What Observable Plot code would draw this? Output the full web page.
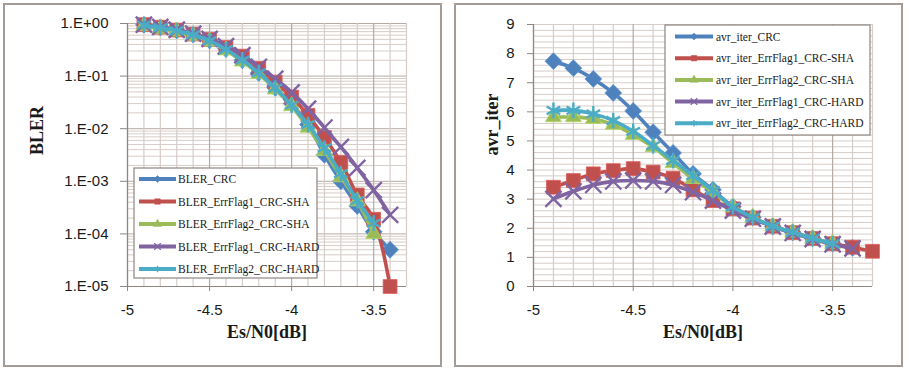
<!DOCTYPE html>
<html>
<head>
<meta charset="utf-8">
<script src="https://cdn.jsdelivr.net/npm/d3@7"></script>
<script src="https://cdn.jsdelivr.net/npm/@observablehq/plot@0.6"></script>
<style>
  html, body { margin: 0; padding: 0; background: #fff; }
  #wrap { position: relative; width: 909px; height: 372px; background: #fff; overflow: hidden; }
  .panel { position: absolute; top: 3px; height: 364px; border: 2px solid #a39b95; box-sizing: border-box; }
  .plotbox { position: absolute; top: 0; }
  #legend { position: absolute; left: 0; top: 0; }
</style>
</head>
<body>
<div id="wrap">
  <div class="panel" style="left:3px;width:439px"></div>
  <div class="panel" style="left:454px;width:449px"></div>
  <div class="plotbox" id="left" style="left:0px"></div>
  <div class="plotbox" id="right" style="left:455px"></div>
</div>
<script>
// ---------- data ----------
const esn0 = [-4.9, -4.8, -4.7, -4.6, -4.5, -4.4, -4.3, -4.2, -4.1, -4.0, -3.9, -3.8, -3.7, -3.6, -3.5, -3.4, -3.3];

const blerNames = ["BLER_CRC", "BLER_ErrFlag1_CRC-SHA", "BLER_ErrFlag2_CRC-SHA", "BLER_ErrFlag1_CRC-HARD", "BLER_ErrFlag2_CRC-HARD"];
const bler_CRC       = [0.95, 0.85, 0.74, 0.62, 0.48, 0.33, 0.20, 0.115, 0.060, 0.030, 0.012, 0.0032, 0.0010, 0.00034, 0.00011, 0.00005];
const bler_F1_SHA    = [0.95, 0.85, 0.75, 0.63, 0.50, 0.35, 0.24, 0.14, 0.077, 0.040, 0.018, 0.0068, 0.0023, 0.00055, 0.00019, 0.00001];
const bler_F2_SHA    = [0.90, 0.80, 0.71, 0.59, 0.46, 0.31, 0.19, 0.11, 0.056, 0.027, 0.0105, 0.0038, 0.0012, 0.00042, 0.00010];
const bler_F1_HARD   = [0.95, 0.86, 0.76, 0.64, 0.51, 0.37, 0.25, 0.15, 0.089, 0.049, 0.024, 0.0105, 0.0045, 0.0018, 0.00068, 0.00023];
const bler_F2_HARD   = [0.93, 0.83, 0.73, 0.61, 0.47, 0.32, 0.20, 0.115, 0.059, 0.028, 0.012, 0.0043, 0.0014, 0.00043, 0.00016];

const iterNames = ["avr_iter_CRC", "avr_iter_ErrFlag1_CRC-SHA", "avr_iter_ErrFlag2_CRC-SHA", "avr_iter_ErrFlag1_CRC-HARD", "avr_iter_ErrFlag2_CRC-HARD"];
const iter_CRC     = [7.74, 7.50, 7.13, 6.65, 6.03, 5.30, 4.59, 3.87, 3.32, 2.74, 2.38, 2.06, 1.86, 1.66, 1.48, 1.33];
const iter_F1_SHA  = [3.41, 3.64, 3.87, 3.98, 4.05, 3.93, 3.72, 3.32, 2.95, 2.67, 2.35, 2.07, 1.85, 1.65, 1.47, 1.35, 1.21];
const iter_F2_SHA  = [5.82, 5.82, 5.76, 5.56, 5.21, 4.79, 4.24, 3.70, 3.24, 2.72, 2.37, 2.07, 1.86, 1.65, 1.47];
const iter_F1_HARD = [3.01, 3.27, 3.49, 3.61, 3.64, 3.61, 3.49, 3.24, 2.95, 2.61, 2.33, 2.06, 1.84, 1.63, 1.45, 1.31];
const iter_F2_HARD = [6.05, 6.05, 5.93, 5.70, 5.33, 4.84, 4.33, 3.81, 3.30, 2.73, 2.37, 2.07, 1.86, 1.65, 1.47];

const xTickLabels = [-5, -4.5, -4, -3.5];
const blerTicks = [1, 0.1, 0.01, 0.001, 0.0001, 0.00001];
const iterTicks = [0, 1, 2, 3, 4, 5, 6, 7, 8, 9];
const xTitle = "Es/N0[dB]";

// ---------- styles ----------
const colors = ["#4f81bd", "#c0504d", "#9bbb59", "#8064a2", "#4bacc6"];
const symbols = ["diamond2", "square", "triangle", "times", "asterisk"];
const d3symbols = [d3.symbolDiamond2, d3.symbolSquare, d3.symbolTriangle, d3.symbolTimes, d3.symbolAsterisk];
const radii = [7.6, 7.8, 6, 7.4, 7.4];
const gridMinor = "#d6cdc8", gridMajor = "#b5aaa4", axisColor = "#8e8680";
const serif = "'Liberation Serif', 'Times New Roman', serif";
const sans = "'Liberation Sans', Arial, sans-serif";

// grid positions
const xGrid = d3.range(0, 18).map(i => Math.round((-5 + i * 0.1) * 10) / 10);
const logGrid = [];
for (let e = -5; e <= -1; e++) for (let k = 1; k <= 9; k++) logGrid.push(Number((k * Math.pow(10, e)).toPrecision(3)));
logGrid.push(1);
const iterGrid = d3.range(0, 46).map(i => Math.round(i * 0.2 * 10) / 10);

function rowsOf(values, name) { return values.map((v, i) => ({x: esn0[i], y: v, name})); }

function seriesMarks(list, names) {
  const marks = [];
  list.forEach((vals, i) => {
    const data = rowsOf(vals, names[i]);
    marks.push(Plot.line(data, {x: "x", y: "y", stroke: colors[i], strokeWidth: 3.6, curve: "catmull-rom"}));
    const stroky = symbols[i] === "times" || symbols[i] === "asterisk";
    marks.push(Plot.dot(data, stroky
      ? {x: "x", y: "y", symbol: symbols[i], r: radii[i], stroke: colors[i], strokeWidth: 2.4}
      : {x: "x", y: "y", symbol: symbols[i], r: radii[i], fill: colors[i], stroke: d3.color(colors[i]).brighter(0.4).formatHex(), strokeWidth: 0.8}));
  });
  return marks;
}

function fmtE(d) {
  const e = Math.round(Math.log10(d));
  const s = Math.abs(e).toString().padStart(2, "0");
  return "1.E" + (e >= 0 ? "+" : "-") + s;
}

// ---------- left chart ----------
const left = Plot.plot({
  width: 450, height: 372,
  marginLeft: 127, marginRight: 44, marginTop: 23, marginBottom: 86,
  x: {domain: [-5, -3.3]},
  y: {type: "log", domain: [0.00001, 1]},
  style: {fontFamily: sans, fontSize: "15px", color: "#1a1a1a", background: "transparent", overflow: "visible"},
  marks: [
    Plot.ruleY(logGrid, {stroke: d => (blerTicks.includes(d) ? gridMajor : gridMinor), strokeWidth: 1}),
    Plot.ruleX(xGrid, {stroke: d => (xTickLabels.includes(d) ? gridMajor : gridMinor), strokeWidth: 1.2}),
    Plot.ruleX([-5], {stroke: axisColor, strokeWidth: 1.2}),
    Plot.ruleY([0.00001], {stroke: axisColor, strokeWidth: 1.2}),
    ...seriesMarks([bler_CRC, bler_F1_SHA, bler_F2_SHA, bler_F1_HARD, bler_F2_HARD], blerNames),
    Plot.axisY({ticks: blerTicks, tickFormat: fmtE, tickSize: 7, tickPadding: 12, stroke: axisColor, label: null, fontSize: 15}),
    Plot.axisX({ticks: xTickLabels, tickFormat: d => String(d), tickSize: 5, tickPadding: 13, stroke: axisColor, label: null, fontSize: 15}),
    Plot.text(["BLER"], {frameAnchor: "left", dx: -90, rotate: -90, fontSize: 18, fontWeight: "bold", fontFamily: serif, fill: "#1a1a1a"}),
    Plot.text([xTitle], {frameAnchor: "bottom", dy: 51, fontSize: 18, fontWeight: "bold", fontFamily: serif, fill: "#1a1a1a"})
  ]
});
document.getElementById("left").appendChild(left);

// ---------- right chart ----------
const right = Plot.plot({
  width: 454, height: 372,
  marginLeft: 78, marginRight: 37, marginTop: 24, marginBottom: 86,
  x: {domain: [-5, -3.3]},
  y: {domain: [0, 9]},
  style: {fontFamily: sans, fontSize: "15px", color: "#1a1a1a", background: "transparent", overflow: "visible"},
  marks: [
    Plot.ruleY(iterGrid, {stroke: gridMinor, strokeWidth: 1}),
    Plot.ruleX(xGrid, {stroke: d => (xTickLabels.includes(d) ? gridMajor : gridMinor), strokeWidth: 1.2}),
    Plot.ruleX([-5], {stroke: axisColor, strokeWidth: 1.2}),
    Plot.ruleY([0], {stroke: axisColor, strokeWidth: 1.2}),
    ...seriesMarks([iter_CRC, iter_F1_SHA, iter_F2_SHA, iter_F1_HARD, iter_F2_HARD], iterNames),
    Plot.axisY({ticks: iterTicks, tickFormat: d => String(d), tickSize: 6, tickPadding: 13, stroke: axisColor, label: null, fontSize: 15}),
    Plot.axisX({ticks: xTickLabels, tickFormat: d => String(d), tickSize: 5, tickPadding: 13, stroke: axisColor, label: null, fontSize: 15}),
    Plot.text(["avr_iter"], {frameAnchor: "left", dx: -41, rotate: -90, fontSize: 18, fontWeight: "bold", fontFamily: serif, fill: "#1a1a1a"}),
    Plot.text([xTitle], {frameAnchor: "bottom", dy: 51, fontSize: 18, fontWeight: "bold", fontFamily: serif, fill: "#1a1a1a"})
  ]
});
document.getElementById("right").appendChild(right);

// ---------- legends ----------
const lg = d3.select("#wrap").append("svg").attr("id", "legend").attr("width", 909).attr("height", 372);
function drawLegend(box, names, rowY0, step, lx0, lx1, tx) {
  lg.append("rect").attr("x", box[0]).attr("y", box[1]).attr("width", box[2]).attr("height", box[3])
    .attr("fill", "#fff").attr("stroke", "#8e8680").attr("stroke-width", 1.2);
  names.forEach((n, i) => {
    const y = rowY0 + i * step;
    lg.append("line").attr("x1", lx0).attr("x2", lx1).attr("y1", y).attr("y2", y)
      .attr("stroke", colors[i]).attr("stroke-width", 4);
    const stroky = i >= 3;
    lg.append("path").attr("d", d3.symbol(d3symbols[i], 30)())
      .attr("transform", `translate(${(lx0 + lx1) / 2},${y})`)
      .attr("fill", stroky ? "none" : colors[i]).attr("stroke", colors[i]).attr("stroke-width", stroky ? 1.3 : 0.5);
    lg.append("text").attr("x", tx).attr("y", y).attr("dy", "0.35em")
      .attr("font-family", serif).attr("font-size", "11.5px").attr("fill", "#1a1a1a").text(n);
  });
}
drawLegend([134, 168, 183, 110], blerNames, 179, 22.5, 139, 176, 178);
drawLegend([665, 25, 205, 110], iterNames, 36.5, 21.7, 675, 713, 716);
</script>
</body>
</html>
